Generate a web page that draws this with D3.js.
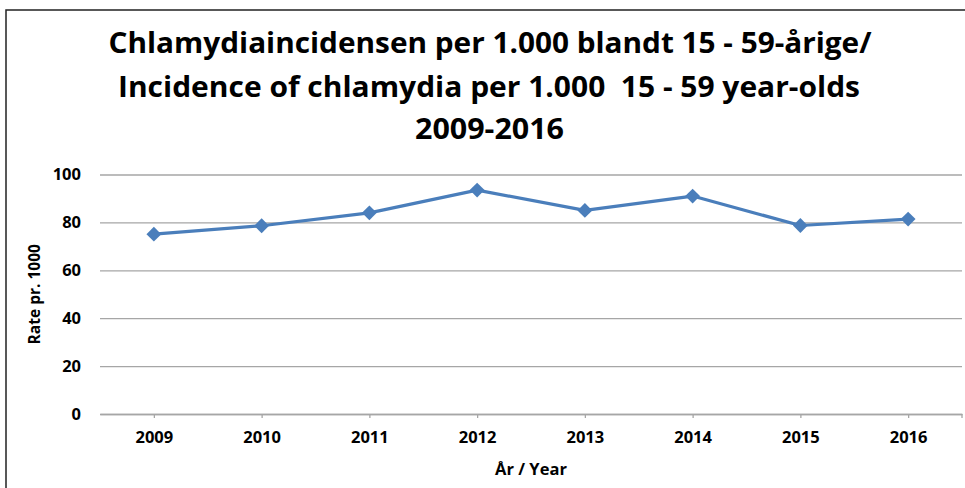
<!DOCTYPE html>
<html>
<head>
<meta charset="utf-8">
<script src="https://cdn.jsdelivr.net/npm/d3@7"></script>
<style>
    body { margin: 0; background: #fff; }
    svg { display: block; }
    text { font-family: "Open Sans", "Noto Sans", sans-serif; font-weight: bold; fill: #000; }
</style>
</head>
<body>
<svg id="chart" width="965" height="488"></svg>
<script>
var years = ["2009", "2010", "2011", "2012", "2013", "2014", "2015", "2016"];
var rates = [75.1, 78.6, 84.0, 93.5, 85.0, 91.0, 78.7, 81.4];
var y_ticks = [0, 20, 40, 60, 80, 100];
var title_lines = [
    "Chlamydiaincidensen per 1.000 blandt 15 - 59-årige/",
    "Incidence of chlamydia per 1.000  15 - 59 year-olds",
    "2009-2016"
];

(function() {
    var svg = d3.select("#chart");

    var plot = {left: 100, right: 962, top: 174.5, bottom: 414};

    var x = d3.scalePoint()
        .domain(years)
        .range([plot.left, plot.right])
        .padding(0.5);

    var y = d3.scaleLinear()
        .domain([0, 100])
        .range([plot.bottom, plot.top]);

    // outer frame (right and bottom fall outside the picture)
    svg.append("rect")
        .attr("x", 6)
        .attr("y", 10)
        .attr("width", 1000)
        .attr("height", 520)
        .attr("fill", "none")
        .attr("stroke", "#222")
        .attr("stroke-width", 1.5);

    // title, squeezed to the widths
    var title_geo = [
        {cx: 490, y: 53, w: 763},
        {cx: 489, y: 97, w: 742},
        {cx: 489.5, y: 139, w: 149}
    ];

    svg.append("g")
        .selectAll("text")
        .data(title_lines)
        .enter()
        .append("text")
        .attr("x", function(d, i) { return title_geo[i].cx; })
        .attr("y", function(d, i) { return title_geo[i].y; })
        .attr("text-anchor", "middle")
        .attr("font-size", 29)
        .style("white-space", "pre")
        .attr("textLength", function(d, i) { return title_geo[i].w; })
        .attr("lengthAdjust", "spacingAndGlyphs")
        .text(function(d) { return d; });

    // gridlines + y labels
    var y_axis = d3.axisLeft(y)
        .tickValues(y_ticks)
        .tickSize(-(plot.right - plot.left))
        .tickPadding(19)
        .tickFormat(d3.format("d"));

    var gy = svg.append("g")
        .attr("transform", "translate(" + plot.left + ",0)")
        .call(y_axis);

    gy.select(".domain").remove();
    gy.selectAll(".tick line")
        .attr("stroke", "#a6a6a6")
        .attr("stroke-width", 1.3);
    gy.selectAll(".tick text")
        .attr("font-size", 16.5)
        .attr("font-family", null)
        .attr("fill", "#000");

    // x axis
    var x_axis = d3.axisBottom(x)
        .tickSizeInner(4)
        .tickSizeOuter(0)
        .tickPadding(13);

    var gx = svg.append("g")
        .attr("transform", "translate(0," + plot.bottom + ")")
        .call(x_axis);

    gx.select(".domain")
        .attr("stroke", "#a6a6a6")
        .attr("stroke-width", 1.3);
    gx.selectAll(".tick line")
        .attr("stroke", "#a6a6a6")
        .attr("stroke-width", 1.3);
    gx.selectAll(".tick text")
        .attr("font-size", 16.5)
        .attr("font-family", null)
        .attr("fill", "#000");

    // closing tick at the right end of the axis
    gx.append("line")
        .attr("x1", plot.right)
        .attr("x2", plot.right)
        .attr("y1", 0)
        .attr("y2", 4)
        .attr("stroke", "#a6a6a6")
        .attr("stroke-width", 1.3);

    // axis titles
    svg.append("text")
        .attr("transform", "translate(40," + (plot.top + plot.bottom) / 2 + ") rotate(-90)")
        .attr("text-anchor", "middle")
        .attr("font-size", 15.5)
        .text("Rate pr. 1000");

    svg.append("text")
        .attr("x", (plot.left + plot.right) / 2)
        .attr("y", 475)
        .attr("text-anchor", "middle")
        .attr("font-size", 16.5)
        .text("År / Year");

    // the series
    var points = years.map(function(d, i) { return {year: d, rate: rates[i]}; });

    var line = d3.line()
        .x(function(d) { return x(d.year); })
        .y(function(d) { return y(d.rate); });

    svg.append("path")
        .datum(points)
        .attr("d", line)
        .attr("fill", "none")
        .attr("stroke", "#4a7ebb")
        .attr("stroke-width", 3.2)
        .attr("stroke-linejoin", "round");

    svg.append("g")
        .selectAll("path")
        .data(points)
        .enter()
        .append("path")
        .attr("d", d3.symbol(d3.symbolSquare, 110))
        .attr("transform", function(d) {
            return "translate(" + x(d.year) + "," + y(d.rate) + ") rotate(45)";
        })
        .attr("fill", "#4a7ebb");
}());
</script>
</body>
</html>
